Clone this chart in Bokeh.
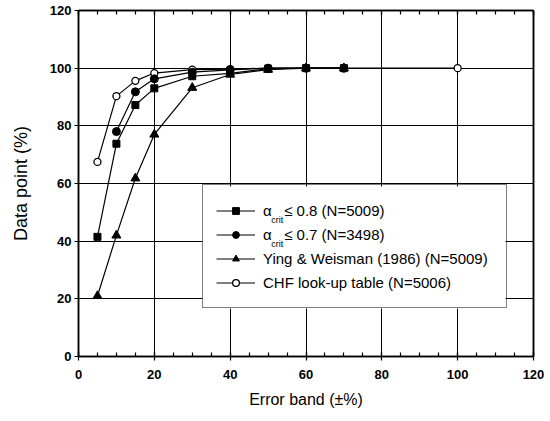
from bokeh.plotting import figure
from bokeh.models import (Range1d, SingleIntervalTicker, LinearAxis, Grid, Legend,
                          LegendItem, Label, CustomJSTickFormatter, BoxAnnotation)
from bokeh.embed import file_html
from bokeh.resources import INLINE

# ---- data ----
band_sq = [5, 10, 15, 20, 30, 40, 50, 60, 70]
alpha08 = [41.5, 73.8, 87.2, 93.0, 97.2, 98.2, 99.8, 100, 100]

band_circ = [10, 15, 20, 30, 40, 50, 60, 70]
alpha07 = [78.0, 91.8, 96.3, 98.6, 99.4, 100, 100, 100]

band_tri = [5, 10, 15, 20, 30, 40, 50, 60, 70]
ying = [21.0, 42.0, 61.8, 77.0, 93.2, 97.8, 99.5, 100, 100]

band_chf = [5, 10, 15, 20, 30, 40, 50, 60, 70, 100]
chf = [67.5, 90.3, 95.6, 98.3, 99.5, 99.7, 100, 100, 100, 100]

legend_labels = ["α\u00a0\u00a0\u00a0≤ 0.8 (N=5009)",
                 "α\u00a0\u00a0\u00a0≤ 0.7 (N=3498)",
                 "Ying & Weisman (1986) (N=5009)",
                 "CHF look-up table (N=5006)"]
x_title = "Error band (±%)"
y_title = "Data point (%)"
FONT = "Liberation Sans"

FW, FH = 455.0, 346.0          # frame size in px
SX, SY = FW / 120.0, FH / 120.0  # px per data unit

p = figure(width=550, height=421, x_range=Range1d(0, 120), y_range=Range1d(0, 120),
           output_backend="svg", toolbar_location=None,
           x_axis_type=None, y_axis_type=None,
           min_border_left=78, min_border_right=17, min_border_top=10, min_border_bottom=65,
           background_fill_color="white", border_fill_color="white")
p.outline_line_color = "black"
p.outline_line_width = 1.5


def make_axis(minor, labels=True):
    ax = LinearAxis(ticker=SingleIntervalTicker(interval=20, num_minor_ticks=minor))
    ax.axis_line_color = "black"
    ax.axis_line_width = 1.5
    ax.major_tick_line_color = "black"
    ax.minor_tick_line_color = "black"
    ax.major_tick_line_width = 1.2
    ax.minor_tick_line_width = 1.2
    ax.major_tick_in = 5
    ax.minor_tick_in = 4
    ax.minor_tick_out = 0
    if labels:
        ax.major_tick_out = 4
        ax.major_label_text_font = FONT
        ax.major_label_text_font_size = "13px"
        ax.major_label_text_font_style = "bold"
        ax.major_label_text_color = "black"
        ax.axis_label_text_font = FONT
        ax.axis_label_text_font_style = "normal"
        ax.axis_label_text_color = "black"
    else:
        ax.major_tick_out = 0
        ax.formatter = CustomJSTickFormatter(code="return ''")
        ax.major_label_standoff = 0
    return ax


xa = make_axis(4)
xa.axis_label = x_title
xa.axis_label_text_font_size = "16px"
xa.major_label_standoff = 9
xa.axis_label_standoff = 9
p.add_layout(xa, "below")

ya = make_axis(1)
ya.axis_label = y_title
ya.axis_label_text_font_size = "18px"
ya.major_label_standoff = 3
ya.axis_label_standoff = 16
p.add_layout(ya, "left")

p.add_layout(make_axis(4, labels=False), "above")
p.add_layout(make_axis(1, labels=False), "right")

p.add_layout(Grid(dimension=0, ticker=xa.ticker, grid_line_color="black", grid_line_width=1))
p.add_layout(Grid(dimension=1, ticker=ya.ticker, grid_line_color="black", grid_line_width=1))

LW = 1.2
l_chf = p.line(band_chf, chf, line_color="black", line_width=LW)
s_chf = p.scatter(band_chf, chf, marker="circle", size=7, fill_color="white",
                  line_color="black", line_width=1.3)
l_tri = p.line(band_tri, ying, line_color="black", line_width=LW)
s_tri = p.scatter(band_tri, ying, marker="triangle", size=9, fill_color="black",
                  line_color="black")
l_sq = p.line(band_sq, alpha08, line_color="black", line_width=LW)
s_sq = p.scatter(band_sq, alpha08, marker="square", size=7, fill_color="black",
                 line_color="black")
l_ci = p.line(band_circ, alpha07, line_color="black", line_width=LW)
s_ci = p.scatter(band_circ, alpha07, marker="circle", size=8, fill_color="black",
                 line_color="black")

# legend geometry (px, relative to frame bottom-left)
LX, LY, PAD, GW, STAND, LBW, ROWH = 124, 48, 13, 39, 8, 230, 24
LEG_W = 2 * PAD + GW + STAND + LBW
LEG_H = 2 * PAD + 4 * ROWH

# white backing for the legend (legend itself drawn transparent so the
# subscripts below stay visible)
p.add_layout(BoxAnnotation(left=LX / SX, right=(LX + LEG_W) / SX,
                           bottom=LY / SY, top=(LY + LEG_H) / SY,
                           fill_color="white", fill_alpha=1, line_alpha=0,
                           level="annotation"))

legend = Legend(items=[
    LegendItem(label=legend_labels[0], renderers=[l_sq, s_sq]),
    LegendItem(label=legend_labels[1], renderers=[l_ci, s_ci]),
    LegendItem(label=legend_labels[2], renderers=[l_tri, s_tri]),
    LegendItem(label=legend_labels[3], renderers=[l_chf, s_chf]),
], location=(LX, LY), padding=PAD, spacing=0, glyph_width=GW, glyph_height=17,
    label_height=ROWH, label_width=LBW, label_standoff=STAND,
    border_line_color="black", border_line_width=1.3,
    background_fill_alpha=0,
    label_text_font=FONT, label_text_font_size="15px", label_text_color="black")
p.add_layout(legend)

# subscript "crit" just after the alpha of the first two legend rows
text_x = LX + PAD + GW + STAND + 8.8
for row in (0, 1):
    base_y = LY + LEG_H - PAD - ROWH * row - ROWH / 2 - 8.5
    p.add_layout(Label(x=text_x / SX, y=base_y / SY, text="crit",
                       text_font=FONT, text_font_size="9px", text_color="black",
                       text_baseline="alphabetic", level="overlay"))

open("out.html", "w").write(file_html(p, INLINE))
